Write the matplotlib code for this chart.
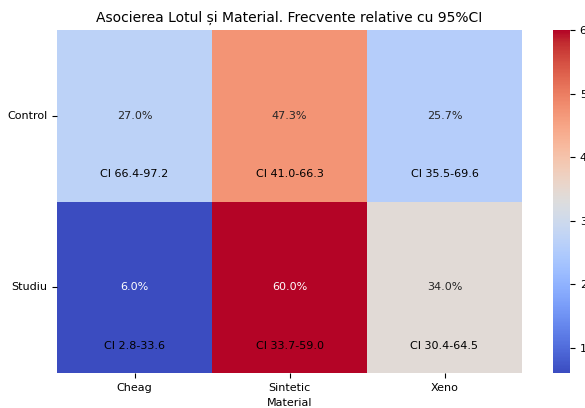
import matplotlib
matplotlib.use("Agg")
import matplotlib.pyplot as plt
import seaborn as sns
import numpy as np
import pandas as pd

rows = ["Control", "Studiu"]
cols = ["Cheag", "Sintetic", "Xeno"]
values = [[27.0, 47.3, 25.7],
          [6.0, 60.0, 34.0]]
ci_labels = [["CI 66.4-97.2", "CI 41.0-66.3", "CI 35.5-69.6"],
             ["CI 2.8-33.6", "CI 33.7-59.0", "CI 30.4-64.5"]]

df = pd.DataFrame(values, index=rows, columns=cols)
annot = np.array([[f"{v:.1f}%" for v in r] for r in values])

W, H = 585, 408
fig = plt.figure(figsize=(W / 100, H / 100), dpi=100)
ax = fig.add_axes([57 / W, 35 / H, (522 - 57) / W, (373 - 30) / H])
cax = fig.add_axes([553 / W, 35 / H, 17 / W, (373 - 30) / H])

sns.heatmap(df, annot=annot, fmt="", cmap="coolwarm", ax=ax, cbar_ax=cax,
            annot_kws={"fontsize": 8})
for i in range(len(rows)):
    for j in range(len(cols)):
        ax.text(j + 0.5, i + 0.84, ci_labels[i][j], ha="center", va="center",
                fontsize=8, color="black")

ax.set_title("Asocierea Lotul și Material. Frecvente relative cu 95%CI", fontsize=10)
ax.set_xlabel("Material", fontsize=8)
ax.set_ylabel("")
ax.tick_params(labelsize=8)
plt.setp(ax.get_yticklabels(), rotation=0)
cax.tick_params(labelsize=8)

fig.savefig("out.png", dpi=100)
